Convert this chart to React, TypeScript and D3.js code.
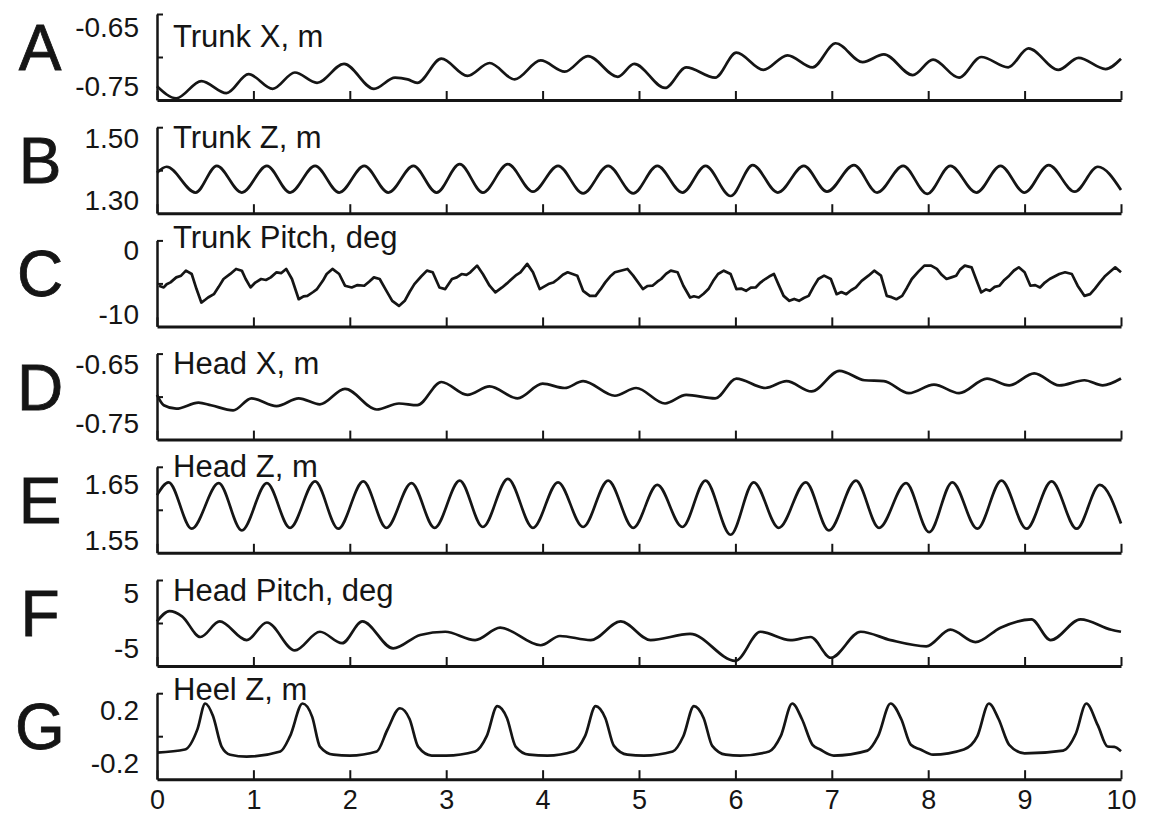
import React, { useEffect, useRef } from 'react';
import * as d3 from 'd3';

// x axis (seconds)
const xTicks = [0, 1, 2, 3, 4, 5, 6, 7, 8, 9, 10];

const panelLetters = ['A', 'B', 'C', 'D', 'E', 'F', 'G'];
const panelTitles = ['Trunk X, m', 'Trunk Z, m', 'Trunk Pitch, deg', 'Head X, m', 'Head Z, m', 'Head Pitch, deg', 'Heel Z, m'];
const yTopLabels = ['-0.65', '1.50', '0', '-0.65', '1.65', '5', '0.2'];
const yBottomLabels = ['-0.75', '1.30', '-10', '-0.75', '1.55', '-5', '-0.2'];
const yDomains = [[-0.75, -0.65], [1.30, 1.50], [-10, 0], [-0.75, -0.65], [1.55, 1.65], [-5, 5], [-0.2, 0.2]];

// [time, value]
const trunkX = [
  [0, -0.734], [0.2, -0.748], [0.46, -0.728], [0.72, -0.742], [0.95, -0.72], [1.2, -0.737], [1.43, -0.718], [1.66, -0.73],
  [1.94, -0.708], [2.25, -0.737], [2.47, -0.724], [2.6, -0.726], [2.7, -0.73], [2.95, -0.702], [3.22, -0.722], [3.45, -0.707],
  [3.71, -0.726], [3.98, -0.704], [4.23, -0.717], [4.47, -0.699], [4.78, -0.723], [4.95, -0.708], [5.27, -0.736], [5.49, -0.712],
  [5.79, -0.724], [6.01, -0.695], [6.29, -0.715], [6.54, -0.698], [6.8, -0.712], [7.04, -0.684], [7.32, -0.706], [7.54, -0.697],
  [7.84, -0.721], [8.05, -0.703], [8.32, -0.724], [8.55, -0.7], [8.83, -0.712], [9.04, -0.69], [9.35, -0.715], [9.56, -0.701],
  [9.84, -0.714], [10, -0.702],
];

const trunkZ = [
  [0, 1.394], [0.1, 1.408], [0.4, 1.348], [0.62, 1.41], [0.88, 1.348], [1.14, 1.41], [1.38, 1.348], [1.64, 1.41], [1.89, 1.348],
  [2.15, 1.41], [2.4, 1.348], [2.66, 1.41], [2.9, 1.348], [3.14, 1.414], [3.38, 1.348], [3.64, 1.414], [3.9, 1.35], [4.16, 1.41],
  [4.42, 1.346], [4.68, 1.41], [4.94, 1.346], [5.19, 1.41], [5.45, 1.348], [5.69, 1.41], [5.95, 1.34], [6.18, 1.412], [6.44, 1.348],
  [6.71, 1.41], [6.95, 1.35], [7.23, 1.412], [7.47, 1.348], [7.74, 1.41], [7.99, 1.345], [8.23, 1.41], [8.5, 1.348], [8.75, 1.41],
  [9.0, 1.348], [9.25, 1.412], [9.52, 1.35], [9.76, 1.408], [10, 1.354],
];

const trunkPitch = [
  [0.02, -5.27], [0.07, -5.47], [0.1, -5.1], [0.14, -4.88], [0.2, -4.3], [0.25, -4.1], [0.3, -3.52], [0.36, -3.91], [0.41, -5.66],
  [0.46, -7.23], [0.5, -6.9], [0.53, -6.64], [0.59, -6.25], [0.64, -5.4], [0.69, -4.49], [0.76, -3.9], [0.82, -3.32], [0.88, -3.52],
  [0.92, -4.49], [0.97, -5.47], [1.02, -4.9], [1.08, -4.49], [1.13, -4.6], [1.18, -4.3], [1.24, -3.71], [1.29, -3.8], [1.34, -3.32],
  [1.4, -4.49], [1.47, -6.84], [1.52, -6.5], [1.56, -6.45], [1.62, -6.0], [1.66, -5.66], [1.72, -4.7], [1.76, -3.91], [1.82, -3.32],
  [1.89, -3.91], [1.95, -5.27], [2.02, -5.47], [2.08, -5.2], [2.15, -5.27], [2.2, -4.8], [2.25, -4.3], [2.31, -4.49], [2.38, -5.86],
  [2.44, -7.03], [2.51, -7.62], [2.57, -7.03], [2.62, -6.0], [2.67, -5.08], [2.74, -4.2], [2.8, -3.52], [2.86, -3.71], [2.93, -5.47],
  [2.99, -5.66], [3.06, -4.49], [3.11, -4.3], [3.16, -3.91], [3.21, -4.0], [3.25, -3.71], [3.32, -2.93], [3.38, -3.91], [3.45, -5.27],
  [3.51, -6.05], [3.58, -5.47], [3.63, -5.0], [3.68, -4.49], [3.73, -4.0], [3.77, -3.71], [3.84, -2.73], [3.9, -3.71], [3.97, -5.66],
  [4.06, -5.08], [4.11, -4.9], [4.16, -4.49], [4.21, -4.0], [4.26, -3.71], [4.31, -3.9], [4.36, -4.1], [4.42, -5.86], [4.49, -6.45],
  [4.55, -6.45], [4.6, -5.7], [4.65, -4.88], [4.7, -4.2], [4.75, -3.71], [4.82, -3.5], [4.88, -3.32], [4.94, -4.1], [5.04, -5.66],
  [5.09, -5.3], [5.14, -5.27], [5.19, -4.8], [5.23, -4.49], [5.28, -3.9], [5.33, -3.52], [5.4, -3.71], [5.46, -5.27], [5.53, -6.64],
  [5.57, -6.5], [5.62, -6.64], [5.67, -6.2], [5.72, -5.66], [5.77, -4.7], [5.82, -3.91], [5.88, -3.52], [5.95, -3.91], [6.01, -5.66],
  [6.06, -5.6], [6.11, -5.86], [6.16, -5.5], [6.21, -5.47], [6.26, -4.9], [6.31, -4.49], [6.35, -4.2], [6.4, -3.91], [6.45, -5.2],
  [6.5, -6.45], [6.56, -7.03], [6.61, -6.8], [6.66, -7.03], [6.71, -6.7], [6.76, -6.45], [6.81, -5.4], [6.86, -4.49], [6.92, -4.1],
  [6.99, -4.49], [7.05, -6.25], [7.1, -6.0], [7.15, -6.25], [7.2, -5.8], [7.25, -5.47], [7.31, -4.7], [7.38, -4.1], [7.44, -3.52],
  [7.51, -4.1], [7.57, -6.45], [7.62, -6.6], [7.67, -6.84], [7.73, -6.45], [7.78, -5.5], [7.83, -4.49], [7.9, -3.6], [7.96, -2.93],
  [8.03, -2.93], [8.09, -3.32], [8.14, -4.0], [8.19, -4.49], [8.24, -4.3], [8.29, -4.1], [8.33, -3.4], [8.38, -2.93], [8.45, -3.13],
  [8.5, -4.6], [8.55, -6.05], [8.6, -5.7], [8.64, -5.86], [8.69, -5.4], [8.74, -5.27], [8.79, -4.6], [8.84, -4.1], [8.89, -3.5],
  [8.94, -3.13], [9.0, -3.71], [9.06, -5.27], [9.11, -5.2], [9.16, -5.47], [9.21, -4.9], [9.26, -4.49], [9.31, -4.2], [9.36, -3.91],
  [9.42, -3.71], [9.49, -3.91], [9.55, -5.27], [9.62, -6.45], [9.68, -6.25], [9.73, -5.6], [9.78, -4.88], [9.83, -4.2], [9.88, -3.71],
  [9.94, -3.13], [10, -3.71],
];

const headX = [
  [0, -0.698], [0.07, -0.71], [0.2, -0.714], [0.43, -0.707], [0.56, -0.71], [0.79, -0.716], [0.98, -0.702], [1.24, -0.711],
  [1.47, -0.702], [1.69, -0.709], [1.95, -0.691], [2.28, -0.715], [2.51, -0.708], [2.7, -0.71], [2.95, -0.683], [3.22, -0.698],
  [3.45, -0.688], [3.74, -0.702], [4.0, -0.685], [4.23, -0.69], [4.42, -0.682], [4.75, -0.699], [4.97, -0.69], [5.27, -0.708],
  [5.49, -0.698], [5.79, -0.702], [6.01, -0.679], [6.31, -0.69], [6.53, -0.682], [6.79, -0.694], [7.08, -0.67], [7.34, -0.681],
  [7.54, -0.682], [7.8, -0.696], [8.06, -0.686], [8.32, -0.696], [8.61, -0.679], [8.84, -0.687], [9.1, -0.673], [9.36, -0.687],
  [9.62, -0.681], [9.81, -0.687], [10, -0.679],
];

const headZ = [
  [0, 1.617], [0.12, 1.632], [0.36, 1.578], [0.64, 1.631], [0.88, 1.576], [1.14, 1.631], [1.38, 1.579], [1.64, 1.633], [1.88, 1.578],
  [2.14, 1.633], [2.38, 1.579], [2.64, 1.631], [2.88, 1.579], [3.14, 1.634], [3.38, 1.58], [3.64, 1.636], [3.9, 1.579], [4.16, 1.632],
  [4.42, 1.58], [4.68, 1.634], [4.94, 1.579], [5.19, 1.629], [5.45, 1.58], [5.69, 1.634], [5.95, 1.571], [6.19, 1.632], [6.45, 1.579],
  [6.73, 1.632], [6.97, 1.576], [7.25, 1.634], [7.49, 1.579], [7.77, 1.631], [8.01, 1.574], [8.25, 1.632], [8.51, 1.578], [8.76, 1.634],
  [9.02, 1.578], [9.28, 1.633], [9.54, 1.578], [9.78, 1.629], [10, 1.584],
];

const headPitch = [
  [0, 0.18], [0.13, 1.39], [0.26, 0.78], [0.45, -1.63], [0.65, 0.18], [0.93, -1.99], [1.14, 0.06], [1.43, -3.19], [1.69, -1.02],
  [1.92, -2.35], [2.13, 0.18], [2.45, -2.95], [2.73, -1.39], [2.99, -1.02], [3.3, -1.99], [3.56, -0.54], [3.98, -2.59], [4.18, -1.51],
  [4.5, -1.99], [4.81, 0.18], [5.12, -1.99], [5.53, -1.27], [6.0, -4.4], [6.26, -1.02], [6.57, -1.99], [6.78, -1.63], [6.99, -4.04],
  [7.3, -1.02], [7.61, -1.99], [7.98, -2.71], [8.23, -0.78], [8.49, -2.23], [8.75, -0.54], [9.07, 0.42], [9.27, -1.99], [9.58, 0.42],
  [9.9, -0.78], [10, -1.02],
];

const heelZ = [
  [0, -0.076], [0.29, -0.062], [0.42, 0.033], [0.5, 0.152], [0.58, 0.095], [0.67, -0.048], [0.76, -0.086], [0.93, -0.095],
  [1.28, -0.071], [1.38, 0.0], [1.51, 0.152], [1.61, 0.09], [1.69, -0.048], [1.83, -0.086], [2.0, -0.09], [2.28, -0.071],
  [2.39, 0.03], [2.52, 0.13], [2.62, 0.08], [2.71, -0.05], [2.85, -0.09], [3.0, -0.09], [3.3, -0.071], [3.42, 0.0], [3.53, 0.14],
  [3.63, 0.085], [3.72, -0.048], [3.86, -0.086], [4.05, -0.09], [4.32, -0.071], [4.44, 0.0], [4.55, 0.14], [4.65, 0.085],
  [4.74, -0.045], [4.88, -0.086], [5.05, -0.09], [5.35, -0.071], [5.46, 0.0], [5.57, 0.14], [5.67, 0.085], [5.76, -0.045],
  [5.9, -0.086], [6.05, -0.09], [6.35, -0.071], [6.47, 0.0], [6.59, 0.152], [6.69, 0.08], [6.8, -0.04], [6.88, -0.062], [7.02, -0.09],
  [7.37, -0.067], [7.48, 0.0], [7.61, 0.152], [7.72, 0.08], [7.82, -0.04], [7.92, -0.062], [8.05, -0.086], [8.37, -0.062],
  [8.51, 0.0], [8.63, 0.152], [8.73, 0.08], [8.84, -0.04], [9.0, -0.08], [9.4, -0.067], [9.53, 0.01], [9.64, 0.152], [9.76, 0.05],
  [9.86, -0.048], [9.93, -0.05], [10, -0.07],
];

const seriesList = [trunkX, trunkZ, trunkPitch, headX, headZ, headPitch, heelZ];

// layout tweaks per panel (title baseline below axis top, tick label offsets)
const titleDy = [33, 21, 8, 20, 10, 21, 7];
const topLabelDy = [23, 21, 20, 20, 27, 23, 27];
const bottomLabelDy = [-4, -3, -2, -7, -3, -8, -6];

const FONT = '"Liberation Sans", Arial, Helvetica, sans-serif';
const INK = '#151515';

const App = () => {
  const svgRef = useRef(null);
  const width = 1149;
  const height = 816;

  useEffect(() => {
    const svg = d3.select(svgRef.current);
    svg.selectAll('*').remove();

    svg.append('rect').attr('width', width).attr('height', height).attr('fill', '#fff');

    const xScale = d3.scaleLinear().domain([0, 10]).range([157, 1121]);
    const panelGap = 113.2;
    const panelH = 86;
    const last = seriesList.length - 1;

    seriesList.forEach((data, i) => {
      const bottom = 100 + i * panelGap;
      const top = bottom - panelH;
      const [lo, hi] = yDomains[i];
      const yScale = d3.scaleLinear().domain([lo, hi]).range([bottom, top]);
      const g = svg.append('g');

      // x axis with upward ticks (labels only under the last panel)
      const xAxis = d3.axisBottom(xScale)
        .tickValues(xTicks)
        .tickSizeInner(-9)
        .tickSizeOuter(0)
        .tickPadding(11)
        .tickFormat(i === last ? d3.format('d') : () => '');
      const xg = g.append('g')
        .attr('transform', `translate(0,${bottom})`)
        .call(xAxis);
      xg.select('.domain').attr('stroke', INK).attr('stroke-width', 3);
      xg.selectAll('.tick line').attr('stroke', INK).attr('stroke-width', 2);
      xg.selectAll('.tick text')
        .attr('fill', INK)
        .style('font-family', FONT)
        .style('font-size', '27px');

      // y axis: bracket with inward ticks
      const yAxis = d3.axisLeft(yScale)
        .tickValues([(lo + hi) / 2, hi])
        .tickSizeInner(-6)
        .tickSizeOuter(0)
        .tickFormat(() => '');
      const yg = g.append('g')
        .attr('transform', `translate(${xScale(0)},0)`)
        .call(yAxis);
      yg.select('.domain').attr('stroke', INK).attr('stroke-width', 2.5);
      yg.selectAll('.tick line').attr('stroke', INK).attr('stroke-width', 2);

      // y labels
      [[hi, yTopLabels[i], topLabelDy[i]], [lo, yBottomLabels[i], bottomLabelDy[i]]].forEach(([v, label, dy]) => {
        g.append('text')
          .attr('x', 139)
          .attr('y', yScale(v) + dy)
          .attr('text-anchor', 'end')
          .style('font-family', FONT)
          .style('font-size', '28px')
          .attr('fill', INK)
          .text(label);
      });

      // big panel letter
      g.append('text')
        .attr('x', 40)
        .attr('y', bottom - 30)
        .attr('text-anchor', 'middle')
        .style('font-family', FONT)
        .style('font-size', '64px')
        .attr('fill', INK)
        .attr('stroke', INK)
        .attr('stroke-width', 0.8)
        .text(panelLetters[i]);

      // title
      g.append('text')
        .attr('x', 173)
        .attr('y', top + titleDy[i])
        .style('font-family', FONT)
        .style('font-size', '31px')
        .attr('fill', INK)
        .text(panelTitles[i]);

      // trace
      const line = d3.line()
        .x(d => xScale(d[0]))
        .y(d => yScale(d[1]))
        .curve(i === 2 ? d3.curveLinear : d3.curveMonotoneX);
      g.append('path')
        .datum(data)
        .attr('fill', 'none')
        .attr('stroke', INK)
        .attr('stroke-width', 2.7)
        .attr('stroke-linejoin', 'round')
        .attr('d', line);
    });
  }, []);

  return (
    <svg
      ref={svgRef}
      width={width}
      height={height}
      style={{ position: 'absolute', left: 0, top: 0, display: 'block' }}
    />
  );
};

export default App;
